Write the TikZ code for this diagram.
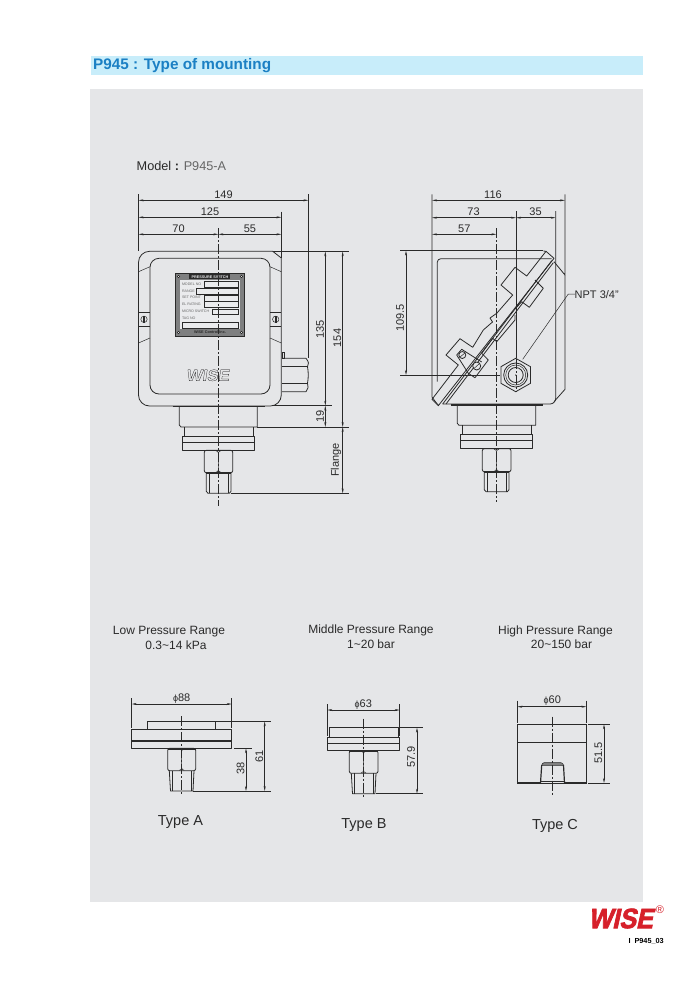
\documentclass[tikz,border=0pt]{standalone}
\usepackage{fontspec}
\setmainfont{Liberation Sans}
\usetikzlibrary{arrows.meta}
\newfontfamily\wiselogo[UprightFont=* Bold,FakeBold=1.3,FakeSlant=0.15,FakeStretch=1.05]{Liberation Sans}
\newfontfamily\wisered[UprightFont=* Bold,FakeBold=2.5,FakeSlant=0.22,FakeStretch=0.9]{Liberation Sans}
\definecolor{panel}{HTML}{E5E6E8}
\definecolor{band}{HTML}{C8EDFA}
\definecolor{headblue}{HTML}{1B80C4}
\definecolor{ink}{HTML}{2A2A2A}
\definecolor{wred}{HTML}{D6202A}
\tikzset{
 obj/.style={draw=ink,line width=.8pt,line join=round},
 thk/.style={draw=ink,line width=1.2pt},
 thn/.style={draw=ink,line width=.5pt},
 ext/.style={draw=ink,line width=.6pt},
 dimline/.style={draw=ink,line width=.5pt,{Stealth[length=5pt,width=2pt]}-{Stealth[length=5pt,width=2pt]}},
 ctr/.style={draw=ink,line width=.6pt,dash pattern=on 10pt off 2pt on 2pt off 2pt},
 dimtext/.style={inner sep=0pt,text=ink,font=\fontsize{11}{11}\selectfont},
 captext/.style={inner sep=0pt,text=ink,font=\fontsize{12}{13}\selectfont},
 typetext/.style={inner sep=0pt,text=ink,font=\fontsize{14.5}{14.5}\selectfont},
 platetext/.style={inner sep=0pt,text=black!60,anchor=west,font=\fontsize{3.6}{4}\selectfont},
}
\newcommand{\diam}[1]{{\fontsize{9}{9}\selectfont ϕ}{\fontsize{11}{11}\selectfont #1}}
% hexagon faces: centre x, top y, bottom y (two faces meeting on the centre line)
\newcommand{\hexfaces}[3]{%
 \draw[thn] (#1-2.5,#2+.4) .. controls (#1-1,#2+.8) and (#1,#2+1.5) .. (#1,#2+3) -- (#1,#3-3) .. controls (#1,#3-1.5) and (#1-1,#3-.8) .. (#1-2.5,#3-.4);
 \draw[thn] (#1+2.5,#2+.4) .. controls (#1+1,#2+.8) and (#1,#2+1.5) .. (#1,#2+3);
 \draw[thn] (#1,#3-3) .. controls (#1,#3-1.5) and (#1+1,#3-.8) .. (#1+2.5,#3-.4);
}
\begin{document}
\begin{tikzpicture}[x=1pt,y=-1pt]
\useasboundingbox (0,0) rectangle (698,989);
\fill[white] (0,0) rectangle (698,989);
\fill[band] (91,56) rectangle (643,75);
\fill[panel] (90,89) rectangle (643,902);
\node[anchor=west,inner sep=0pt,text=headblue,font=\fontsize{15.3}{15}\bfseries\selectfont] (head) at (93,65.5) {P945 : Type of mounting};
\node[anchor=west,inner sep=0pt,text=ink,font=\fontsize{12.7}{13}\selectfont] (model) at (136.5,165.5) {Model \textbf{:} \textcolor{black!60}{P945-A}};

%% ---------- LEFT VIEW ----------
\draw[obj] (272.7,251.3) [rounded corners=11pt] -- (138.5,251.3) -- (138.5,406) -- (281.3,406) [sharp corners] -- (281.3,258) -- cycle;
\draw[obj,rounded corners=9pt] (150,258.3) rectangle (270,394);
\foreach \x/\s in {138.5/150,281.3/270}{
 \draw[thn] (\x,271.7) -- (\s,266.7);
 \draw[thn] (\x,343) -- (\s,338);
 \draw[thn] (\x,312.3) -- (\s,312.3);
 \draw[thn] (\x,326.7) -- (\s,326.7);
}
\foreach \x in {144,275.7}{
 \draw[thn] (\x,319.3) circle (3.2);
 \draw[thn,fill=ink] (\x-.6,316.1) rectangle (\x+.6,322.5);
}
% nameplate
\draw[draw=ink,line width=.8pt,fill=panel!55!black] (175.3,273.3) rectangle (244.7,336);
\fill[panel!80!white] (180,279.5) rectangle (240,329);
\foreach \x/\y in {178.5/276.5,241.5/276.5,178.5/332.5,241.5/332.5}\draw[thn,fill=white] (\x,\y) circle (1.3);
\fill[ink] (189,274.3) rectangle (230,279.3);
\node[inner sep=0pt,text=panel,font=\fontsize{3.8}{4}\bfseries\selectfont] (ptitle) at (210,276.9) {PRESSURE SWITCH};
\node[platetext] (p1) at (181.8,284.3) {MODEL NO};
\node[platetext] (p2) at (181.8,291) {RANGE};
\node[platetext] (p3) at (181.8,297.7) {SET POINT};
\node[platetext] (p4) at (181.8,304) {EL RATING};
\node[platetext] (p5) at (181.8,311.3) {MICRO SWITCH};
\node[platetext] (p6) at (181.8,318.3) {TAG NO};
\node[inner sep=0pt,text=ink,font=\fontsize{3.8}{4}\bfseries\selectfont] (p7) at (210,332.4) {WISE  Control Inc.};
\draw[ink,line width=.7pt] (204,281.7) rectangle (238.7,287.3);
\draw[ink,line width=.7pt] (196.7,288.3) rectangle (238.7,294);
\draw[ink,line width=.7pt] (204,295.3) rectangle (238.7,301);
\draw[ink,line width=.7pt] (204,301.7) rectangle (238.7,307.3);
\draw[ink,line width=.7pt] (212.3,309) rectangle (238.7,314.3);
\draw[ink,line width=.7pt] (182,322.3) rectangle (238.7,328.3);
% WISE mark
\node[inner sep=0pt,font=\wiselogo\fontsize{16}{16}\selectfont,text=panel] (mark) at (207.7,375.3) {\special{pdf:code 0 G}WISE};
% connector block
\draw[obj] (282,358.3) -- (306,358.3) .. controls (309,362) and (309,364) .. (307.5,366.7) .. controls (308.5,372) and (308.5,378) .. (307.5,383.3) .. controls (309,386) and (308,389) .. (306,391.7) -- (282,391.7);
\draw[thn] (282,366.7) -- (307.5,366.7);
\draw[thn] (282,383.3) -- (307.5,383.3);
\draw[thn] (282,352) rectangle (284.5,358.3);
% stem
\draw[thk] (172.7,406.3) -- (265,406.3);
\draw[obj] (179.3,406.3) -- (179.3,425) -- (181,427) -- (257.3,427) -- (257.3,406.3);
\draw[obj] (184.3,427) -- (184.3,436.7);
\draw[obj] (253.3,427) -- (253.3,436.7);
\draw[obj] (182.3,436.7) rectangle (254.7,450.3);
\draw[thk] (182.3,442.7) -- (254.7,442.7);
\draw[obj,rounded corners=2pt] (204.3,450.3) rectangle (232.7,472.7);
\hexfaces{218.4}{450.3}{472.7}
\draw[obj] (206.3,472.7) -- (206.3,491.3) -- (208,493.3) -- (229.3,493.3) -- (231,491.3) -- (231,472.7);
\draw[thn] (209,472.7) -- (209,493.3);
\draw[thn] (228.3,472.7) -- (228.3,493.3);
\draw[thk] (206.3,472.9) -- (231,472.9);
\draw[ctr] (218.3,228) -- (218.3,505.7);
% left view dimensions
\draw[ext] (138.5,194) -- (138.5,251);
\draw[ext] (281.3,211.7) -- (281.3,258);
\draw[ext] (308.3,194) -- (308.3,358.3);
\draw[ext] (272.7,251.3) -- (349.3,251.3);
\draw[ext] (272.7,405.7) -- (331.7,405.7);
\draw[ext] (257,427) -- (349.3,427);
\draw[ext] (230.7,493.3) -- (349.3,493.3);
\draw[dimline] (138.5,200.3) -- (308.3,200.3);
\draw[dimline] (138.5,217.3) -- (281.3,217.3);
\draw[dimline] (138.5,234.3) -- (218.3,234.3);
\draw[dimline] (218.3,234.3) -- (281.3,234.3);
\draw[dimline] (325.3,251.3) -- (325.3,405.7);
\draw[dimline] (325.3,405.7) -- (325.3,427);
\draw[dimline] (342.7,251.3) -- (342.7,427);
\draw[dimline] (342.7,427) -- (342.7,493.3);
\node[dimtext] (d149) at (223.5,194.5) {149};
\node[dimtext] (d125) at (210,211.5) {125};
\node[dimtext] (d70) at (178.5,228.5) {70};
\node[dimtext] (d55) at (250,228.5) {55};
\node[dimtext,rotate=90] (d135) at (320,329.5) {135};
\node[dimtext,rotate=90] (d154) at (337.5,338) {154};
\node[dimtext,rotate=90] (d19) at (320,416) {19};
\node[dimtext,rotate=90] (dfl) at (336,460) {Flange};

%% ---------- RIGHT VIEW ----------
\draw[obj] (432,194.3) -- (432,397) -- (436,402.5) -- (438.3,405);
\draw[obj] (437.3,381.7) [rounded corners=3.5pt] -- (437.3,258.7) -- (551.7,258.7);
\draw[ext] (400,250.7) -- (543.3,250.7);
\draw[obj] (442.7,404) [rounded corners=5.7pt] -- (555.7,404) -- (555.7,211);
\draw[obj] (565,194.3) -- (565,275) -- (554,261.7);
\draw[obj] (565,275) -- (565,389.3) -- (554,401.7);
% door
\draw[obj] (543.3,251) -- (546,251.3) -- (554,258.3) -- (438.3,405.7) -- (432,399.3) -- (458.3,365);
\draw[obj] (551.7,260.7) -- (442.7,404);
\draw[obj] (553.3,262.7) -- (446,404);
\draw[obj] (546,251.3) -- (526.7,276) -- (515,267.3) -- (501,285) -- (512.7,295) -- (496.7,313.3) -- (490,318) -- (492.5,322) -- (483.3,330) -- (472.7,347.3) -- (460,338.7) -- (446,355) -- (458.3,365);
\draw[obj] (543.3,288.3) -- (535,280);
\draw[obj] (543.3,288.3) -- (529.3,307.3) -- (521.7,301.7) -- (515,309);
\draw[obj] (515,315) -- (515,320) -- (496.7,341.7) -- (492.7,338.3) -- (481.7,353.3) -- (488.3,360) -- (475,377.7) -- (468.3,373.3) -- (456.7,355) -- (461.7,349.3) -- (481.7,362);
\draw[obj,fill=panel] (462.3,355) circle (3.5);
\draw[thn] (460,357) -- (465,353);
\draw[obj,fill=panel] (476.7,366) circle (4);
\draw[thn] (474,368.5) -- (479.5,363.5);
% hex port
\draw[obj,fill=panel] (515.7,358.3) -- (530.5,366.7) -- (530.5,383.3) -- (515.7,391.7) -- (500.9,383.3) -- (500.9,366.7) -- cycle;
\draw[obj] (515.7,375) circle (12);
\draw[thn] (515.7,375) circle (10);
\draw[obj] (515.7,375) circle (7.5);
\fill[ink] (515.7,375) circle (.7);
% stem
\draw[thk] (450.7,405) -- (542.7,405);
\draw[obj] (457.3,405) -- (457.3,423.3) -- (459,425.3) -- (535.7,425.3) -- (535.7,405);
\draw[obj] (462.3,425.3) -- (462.3,434.7);
\draw[obj] (531,425.3) -- (531,434.7);
\draw[obj] (460.3,434.7) rectangle (532.7,448.7);
\draw[thk] (460.3,440.7) -- (532.7,440.7);
\draw[obj,rounded corners=2pt] (482.3,448.7) rectangle (511,471.7);
\hexfaces{496.5}{448.7}{471.7}
\draw[obj] (484.3,471.7) -- (484.3,489.7) -- (486,491.7) -- (507.3,491.7) -- (509,489.7) -- (509,471.7);
\draw[thn] (487,471.7) -- (487,491.7);
\draw[thn] (506.3,471.7) -- (506.3,491.7);
\draw[thk] (484.3,471.9) -- (509,471.9);
\draw[ctr] (496.3,228.3) -- (496.3,501.7);
\draw[ext] (516,211) -- (516,358.3);
\draw[ctr] (516,359) -- (516,391.5);
\draw[ext] (400,375) -- (500,375);
% right view dimensions
\draw[dimline] (432,200.3) -- (565,200.3);
\draw[dimline] (432,217.7) -- (516,217.7);
\draw[dimline] (516,217.7) -- (555.7,217.7);
\draw[dimline] (432,234.3) -- (496.3,234.3);
\draw[dimline] (406,250.7) -- (406,375);
\draw[thn] (575,294) -- (568.3,294) -- (522.7,359.3);
\node[dimtext] (d116) at (493,194.5) {116};
\node[dimtext] (d73) at (473.5,211.5) {73};
\node[dimtext] (d35) at (535.5,211.5) {35};
\node[dimtext] (d57) at (464.3,228.5) {57};
\node[dimtext,rotate=90] (d1095) at (400,318) {109.5};
\node[dimtext,anchor=west] (npt) at (574.5,294.5) {NPT 3/4"};

%% ---------- CAPTIONS ----------
\node[captext,align=center] (lowcap) at (169,632) {Low Pressure Range};
\node[captext] (lowval) at (176,645.5) {0.3\textasciitilde14 kPa};
\node[captext] (midcap) at (371,630.5) {Middle Pressure Range};
\node[captext] (midval) at (371,644.5) {1\textasciitilde20 bar};
\node[captext] (hicap) at (555.5,631) {High Pressure Range};
\node[captext] (hival) at (561.5,644.5) {20\textasciitilde150 bar};
\node[typetext] (ta) at (180.5,822.5) {Type A};
\node[typetext] (tb) at (364,825) {Type B};
\node[typetext] (tc) at (555,826) {Type C};

%% ---------- TYPE A ----------
\draw[obj] (131.7,729.7) rectangle (231.7,748.3);
\draw[thk] (131.7,741) -- (231.7,741);
\draw[obj] (147.3,729.7) -- (147.3,721.3) -- (271,721.3);
\draw[obj] (215.7,721.3) -- (215.7,729.7);
\draw[obj,rounded corners=2pt] (167.7,748.3) rectangle (195.7,770.7);
\draw[thk] (167.7,749.2) -- (195.7,749.2);
\hexfaces{181.7}{748.3}{770.7}
\draw[obj] (169.3,770.7) -- (170.5,791) -- (193,791) -- (194,770.7);
\draw[thn] (172,770.7) -- (172,791);
\draw[thn] (191.5,770.7) -- (191.5,791);
\draw[ext] (193,791) -- (271,791);
\draw[ctr] (181.7,716) -- (181.7,795.7);
\draw[ext] (131.7,698) -- (131.7,728);
\draw[ext] (231.7,698) -- (231.7,728);
\draw[ext] (234,748.3) -- (252,748.3);
\draw[dimline] (131.7,704) -- (231.7,704);
\draw[dimline] (246,748.3) -- (246,791);
\draw[dimline] (264.7,721.3) -- (264.7,791);
\node[dimtext] (dA) at (181.7,698.5) {\diam{88}};
\node[dimtext,rotate=90] (d38) at (240.5,768) {38};
\node[dimtext,rotate=90] (d61) at (259.3,756) {61};

%% ---------- TYPE B ----------
\draw[obj] (327.3,737.3) rectangle (399.7,750.7);
\draw[thk] (327.3,743.3) -- (399.7,743.3);
\draw[obj] (329.3,737.3) -- (329.3,727.7) -- (398,727.7) -- (398,737.3);
\draw[obj,rounded corners=2pt] (349.3,750.7) rectangle (378,773.3);
\draw[thk] (349.3,751.5) -- (378,751.5);
\hexfaces{363.5}{750.7}{773.3}
\draw[obj] (351.3,773.3) -- (352.5,793.7) -- (375,793.7) -- (376,773.3);
\draw[thn] (354,773.3) -- (354,793.7);
\draw[thn] (373.5,773.3) -- (373.5,793.7);
\draw[ctr] (363.3,718.7) -- (363.3,797.3);
\draw[ext] (327.3,704) -- (327.3,736);
\draw[ext] (399.7,704) -- (399.7,736);
\draw[ext] (400,727.7) -- (422.7,727.7);
\draw[ext] (376,793.7) -- (422.7,793.7);
\draw[dimline] (327.3,710) -- (399.7,710);
\draw[dimline] (417,727.7) -- (417,793.7);
\node[dimtext] (dB) at (363.3,704.5) {\diam{63}};
\node[dimtext,rotate=90] (d579) at (411,757) {57.9};

%% ---------- TYPE C ----------
\draw[thk] (540,783) -- (517.3,783) -- (517.3,724.3) -- (586.3,724.3) -- (586.3,783) -- (564.7,783);
\draw[obj] (517.3,742) -- (586.3,742);
\draw[thn,fill=black!50] (541.7,765.3) -- (542.5,763.5) -- (544,762.7) -- (561,762.7) -- (562.7,763.5) -- (563.5,765.3) -- cycle;
\draw[thk] (540.5,783) -- (541.7,765);
\draw[thk] (564.5,783) -- (563.5,765);
\draw[thn] (540,781.5) -- (564.7,781.5);
\draw[thn] (540,783) -- (564.7,783);
\draw[ctr] (552,716.7) -- (552,795.7);
\draw[ext] (517.3,700.7) -- (517.3,722.7);
\draw[ext] (586.3,700.7) -- (586.3,722.7);
\draw[ext] (588.3,724.3) -- (610,724.3);
\draw[ext] (588.3,783) -- (610,783);
\draw[dimline] (517.3,706.7) -- (586.3,706.7);
\draw[dimline] (604,724.3) -- (604,783);
\node[dimtext] (dC) at (552.3,701) {\diam{60}};
\node[dimtext,rotate=90] (d515) at (598.5,752.7) {51.5};

%% ---------- LOGO ----------
\node[inner sep=0pt,text=wred,font=\wisered\fontsize{28}{28}\selectfont] (logo) at (620.5,918.5) {WISE};
\node[inner sep=0pt,text=wred,font=\fontsize{11}{11}\selectfont] (reg) at (660,910) {\textregistered};
\node[inner sep=0pt,anchor=east,text=black,font=\fontsize{7.3}{8}\bfseries\selectfont] (page) at (664,941.5) {I\hspace{2pt} P945\_03};
\end{tikzpicture}
\end{document}
